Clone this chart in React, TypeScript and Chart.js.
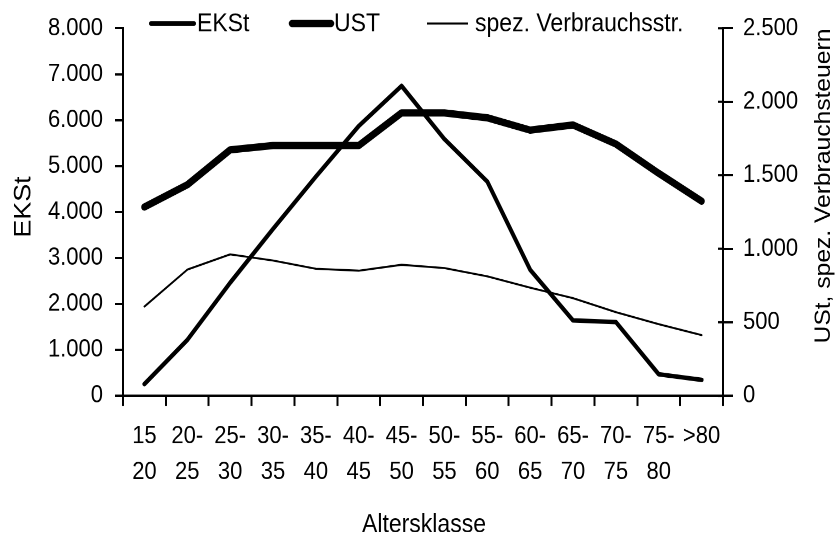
import React, { useEffect, useRef } from "react";
import { Chart, registerables } from "chart.js";
Chart.register(...registerables);

// ---- data ----
const categories: string[][] = [
  ["15", "20"], ["20-", "25"], ["25-", "30"], ["30-", "35"], ["35-", "40"],
  ["40-", "45"], ["45-", "50"], ["50-", "55"], ["55-", "60"], ["60-", "65"],
  ["65-", "70"], ["70-", "75"], ["75-", "80"], [">80"],
];
const ekst = [256, 1215, 2460, 3630, 4770, 5870, 6744, 5586, 4663, 2744, 1642, 1606, 469, 348];
const ust = [1284, 1435, 1673, 1702, 1702, 1702, 1924, 1924, 1891, 1807, 1842, 1713, 1513, 1324];
const spez = [607, 858, 962, 920, 864, 851, 891, 869, 813, 736, 664, 569, 487, 413];
const seriesNames = ["EKSt", "UST", "spez. Verbrauchsstr."];
const leftMax = 8000;
const leftStep = 1000;
const rightMax = 2500;
const rightStep = 500;
const xTitle = "Altersklasse";
const leftTitle = "EKSt";
const rightTitle = "USt, spez. Verbrauchsteuern";

// ---- layout ----
const W = 837;
const H = 535;
const IH = 478; // internal canvas height, stretched vertically to H
const S = H / IH;
const FONT = "'Liberation Sans', Arial, Helvetica, sans-serif";
const AREA_TOP = 23 / S;
const AREA_BOTTOM = 395.8 / S;
const AREA_LEFT = 123;
const AREA_RIGHT = 723;

const fmt = (v: number) => String(v).replace(/\B(?=(\d{3})+(?!\d))/g, ".");

const widths = [4, 6.5, 1.8];

const overlay = {
  id: "overlay",
  afterDraw(chart: any) {
    const ctx = chart.ctx as CanvasRenderingContext2D;
    const area = chart.chartArea;
    const y1 = chart.scales.y1;
    ctx.save();
    ctx.strokeStyle = "#000";
    ctx.fillStyle = "#000";
    // inward ticks on right axis
    ctx.lineWidth = 2;
    for (let v = 0; v <= rightMax; v += rightStep) {
      const py = y1.getPixelForValue(v);
      ctx.beginPath();
      ctx.moveTo(area.right - 5, py);
      ctx.lineTo(area.right, py);
      ctx.stroke();
    }
    // legend
    const ly = 21;
    const items = [
      { x0: 151, x1: 194, tx: 197 },
      { x0: 292, x1: 331, tx: 334 },
      { x0: 427, x1: 468, tx: 475 },
    ];
    ctx.font = `23px ${FONT}`;
    ctx.textBaseline = "middle";
    ctx.textAlign = "left";
    items.forEach((it, i) => {
      ctx.lineWidth = widths[i];
      ctx.lineCap = i === 2 ? "butt" : "round";
      ctx.beginPath();
      ctx.moveTo(it.x0, ly);
      ctx.lineTo(it.x1, ly);
      ctx.stroke();
      ctx.fillText(seriesNames[i], it.tx, ly + 0.5);
    });
    // axis titles
    ctx.textAlign = "center";
    ctx.font = `23px ${FONT}`;
    ctx.textBaseline = "alphabetic";
    ctx.fillText(xTitle, (area.left + area.right) / 2 + 1, 475.5);

    ctx.textBaseline = "middle";
    ctx.save();
    ctx.translate(24, 207 / S);
    ctx.rotate(-Math.PI / 2);
    ctx.font = `24px ${FONT}`;
    ctx.fillText(leftTitle, 0, 0);
    ctx.restore();

    ctx.save();
    ctx.translate(824, 186 / S);
    ctx.rotate(-Math.PI / 2);
    ctx.font = `22px ${FONT}`;
    ctx.fillText(rightTitle, 0, 0);
    ctx.restore();

    ctx.restore();
  },
};

export default function App() {
  const ref = useRef<HTMLCanvasElement | null>(null);
  useEffect(() => {
    if (!ref.current) return;
    const tickFont = { family: FONT, size: 22 };
    const chart = new Chart(ref.current, {
      type: "line",
      data: {
        labels: categories as any,
        datasets: [
          { label: seriesNames[0], data: ekst, yAxisID: "y", borderColor: "#000", borderWidth: widths[0] },
          { label: seriesNames[1], data: ust, yAxisID: "y1", borderColor: "#000", borderWidth: widths[1] },
          { label: seriesNames[2], data: spez, yAxisID: "y1", borderColor: "#000", borderWidth: widths[2] },
        ],
      },
      options: {
        responsive: false,
        animation: false,
        devicePixelRatio: 2,
        layout: { padding: { top: AREA_TOP, left: 0, right: 0, bottom: 0 } },
        elements: {
          point: { radius: 0, hoverRadius: 0 },
          line: { tension: 0, borderCapStyle: "round", borderJoinStyle: "round", fill: false },
        },
        plugins: {
          legend: { display: false },
          tooltip: { enabled: false },
          title: { display: false },
        },
        scales: {
          x: {
            type: "category",
            offset: true,
            grid: { offset: true, drawOnChartArea: false, drawTicks: true, tickLength: 9, color: "#000", lineWidth: 2 },
            border: { display: true, color: "#000", width: 2 },
            ticks: {
              color: "#000",
              font: { ...tickFont, lineHeight: 1.47 },
              padding: 11,
              maxRotation: 0,
              minRotation: 0,
              autoSkip: false,
            },
            afterFit: (s: any) => {
              s.height = IH - AREA_BOTTOM;
            },
          },
          y: {
            position: "left",
            min: 0,
            max: leftMax,
            grid: { drawOnChartArea: false, drawTicks: true, tickLength: 8, color: "#000", lineWidth: 2 },
            border: { display: true, color: "#000", width: 2 },
            ticks: { stepSize: leftStep, color: "#000", font: tickFont, padding: 12, callback: (v: any) => fmt(Number(v)) },
            afterFit: (s: any) => {
              s.width = AREA_LEFT;
            },
          },
          y1: {
            position: "right",
            min: 0,
            max: rightMax,
            grid: { drawOnChartArea: false, drawTicks: true, tickLength: 10, color: "#000", lineWidth: 2 },
            border: { display: true, color: "#000", width: 2 },
            ticks: { stepSize: rightStep, color: "#000", font: tickFont, padding: 10, callback: (v: any) => fmt(Number(v)) },
            afterFit: (s: any) => {
              s.width = W - AREA_RIGHT;
            },
          },
        },
      } as any,
      plugins: [overlay],
    });
    return () => chart.destroy();
  }, []);

  return (
    <div style={{ position: "fixed", left: 0, top: 0, width: W, height: H, overflow: "hidden", background: "#fff" }}>
      <div style={{ width: W, height: IH, transform: `scaleY(${S})`, transformOrigin: "0 0" }}>
        <canvas ref={ref} width={W} height={IH} style={{ display: "block" }} />
      </div>
    </div>
  );
}
